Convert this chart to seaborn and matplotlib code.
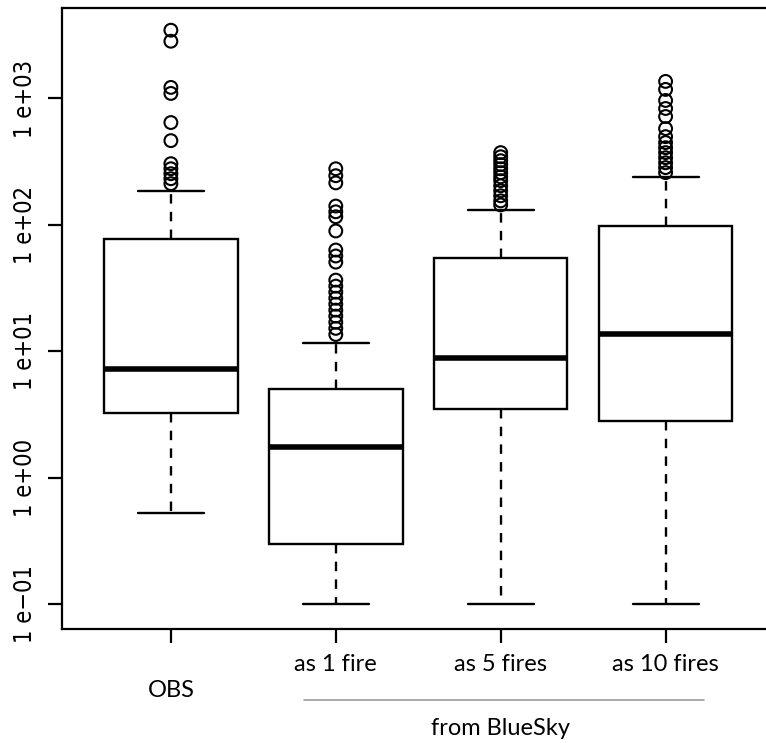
import matplotlib
matplotlib.use("Agg")
import matplotlib.pyplot as plt
import matplotlib.transforms as mtransforms
import pandas as pd
import seaborn as sns

# ---- data (log scale values) ----
groups = ["OBS", "as 1 fire", "as 5 fires", "as 10 fires"]
q1 = [3.28, 0.30, 3.53, 2.83]
median = [7.2, 1.76, 8.8, 13.6]
q3 = [77.4, 5.0, 54.7, 98.2]
whisker_lo = [0.53, 0.1, 0.1, 0.1]
whisker_hi = [185, 11.6, 131, 240]

outliers_obs = [3465, 2835, 1223, 1096, 645, 464, 305, 278, 254, 232, 212]
outliers_1fire = [278, 245, 215, 141, 127, 116, 89.6, 63.3, 56.8, 50.8,
                  36.6, 32.8, 29.4, 26.3, 23.6, 21.2, 19.0, 17.0, 15.2, 13.6]
outliers_5fires = [373, 346, 322, 300, 278, 259, 240, 224, 204, 186, 170, 155, 144]
outliers_10fires = [1364, 1179, 964, 833, 720, 578, 499, 448, 408, 373,
                    340, 310, 284, 259]
outliers = [outliers_obs, outliers_1fire, outliers_5fires, outliers_10fires]

ytick_values = [0.1, 1, 10, 100, 1000]
ytick_labels = ["1 e\u221201", "1 e+00", "1 e+01", "1 e+02", "1 e+03"]

# ---- style ----
sns.set_style("ticks")
plt.rcParams["font.family"] = ["Lato", "DejaVu Sans"]
plt.rcParams["axes.linewidth"] = 1.6
plt.rcParams["text.color"] = "black"
plt.rcParams["xtick.color"] = "black"
plt.rcParams["ytick.color"] = "black"

fig = plt.figure(figsize=(7.66, 7.43), dpi=100)
ax = fig.add_axes([0.081, 0.153, 0.93, 0.836])

positions = [1, 2, 3, 4]
stats = []
for i in range(len(groups)):
    stats.append(dict(med=median[i], q1=q1[i], q3=q3[i],
                      whislo=whisker_lo[i], whishi=whisker_hi[i],
                      fliers=[], label=groups[i]))

ax.bxp(stats, positions=positions, widths=0.81, capwidths=0.4,
       showfliers=False, patch_artist=True,
       boxprops=dict(facecolor="white", edgecolor="black", linewidth=1.7),
       medianprops=dict(color="black", linewidth=4.0, solid_capstyle="butt"),
       whiskerprops=dict(color="black", linewidth=1.7, linestyle=(0, (4, 3.5))),
       capprops=dict(color="black", linewidth=1.7))

# outliers drawn with seaborn
flier_df = pd.DataFrame({
    "pos": [positions[i] for i in range(len(groups)) for _ in outliers[i]],
    "value": [v for vals in outliers for v in vals],
})
sns.scatterplot(data=flier_df, x="pos", y="value", ax=ax, marker="o",
                s=85, color="black", linewidth=1.5, legend=False)
ax.collections[-1].set_facecolor("none")
ax.collections[-1].set_edgecolor("black")

ax.set_yscale("log")
ax.set_ylim(0.0634, 5176)
ax.set_xlim(0.34, 4.66)
ax.set_xlabel("")
ax.set_ylabel("")

ax.set_yticks(ytick_values)
ax.set_yticklabels(ytick_labels, rotation=90, va="center", fontsize=17,
                   family=["DejaVu Sans"], stretch="condensed")
ax.yaxis.set_minor_locator(matplotlib.ticker.NullLocator())
ax.set_xticks(positions)
ax.set_xticklabels(["", groups[1], groups[2], groups[3]], fontsize=17)
ax.tick_params(axis="both", length=10, width=1.6, pad=8)

for side in ["top", "right", "left", "bottom"]:
    ax.spines[side].set_visible(True)
    ax.spines[side].set_color("black")

trans = mtransforms.blended_transform_factory(ax.transData, ax.transAxes)
ax.text(positions[0], -0.098, groups[0], transform=trans, ha="center",
        va="center", fontsize=17)
ax.plot([1.81, 4.23], [-0.114, -0.114], transform=trans, color="#999999",
        linewidth=1.2, clip_on=False)
ax.text(3.0, -0.16, "from BlueSky", transform=trans, ha="center",
        va="center", fontsize=17)

fig.savefig("out.png", dpi=100)
